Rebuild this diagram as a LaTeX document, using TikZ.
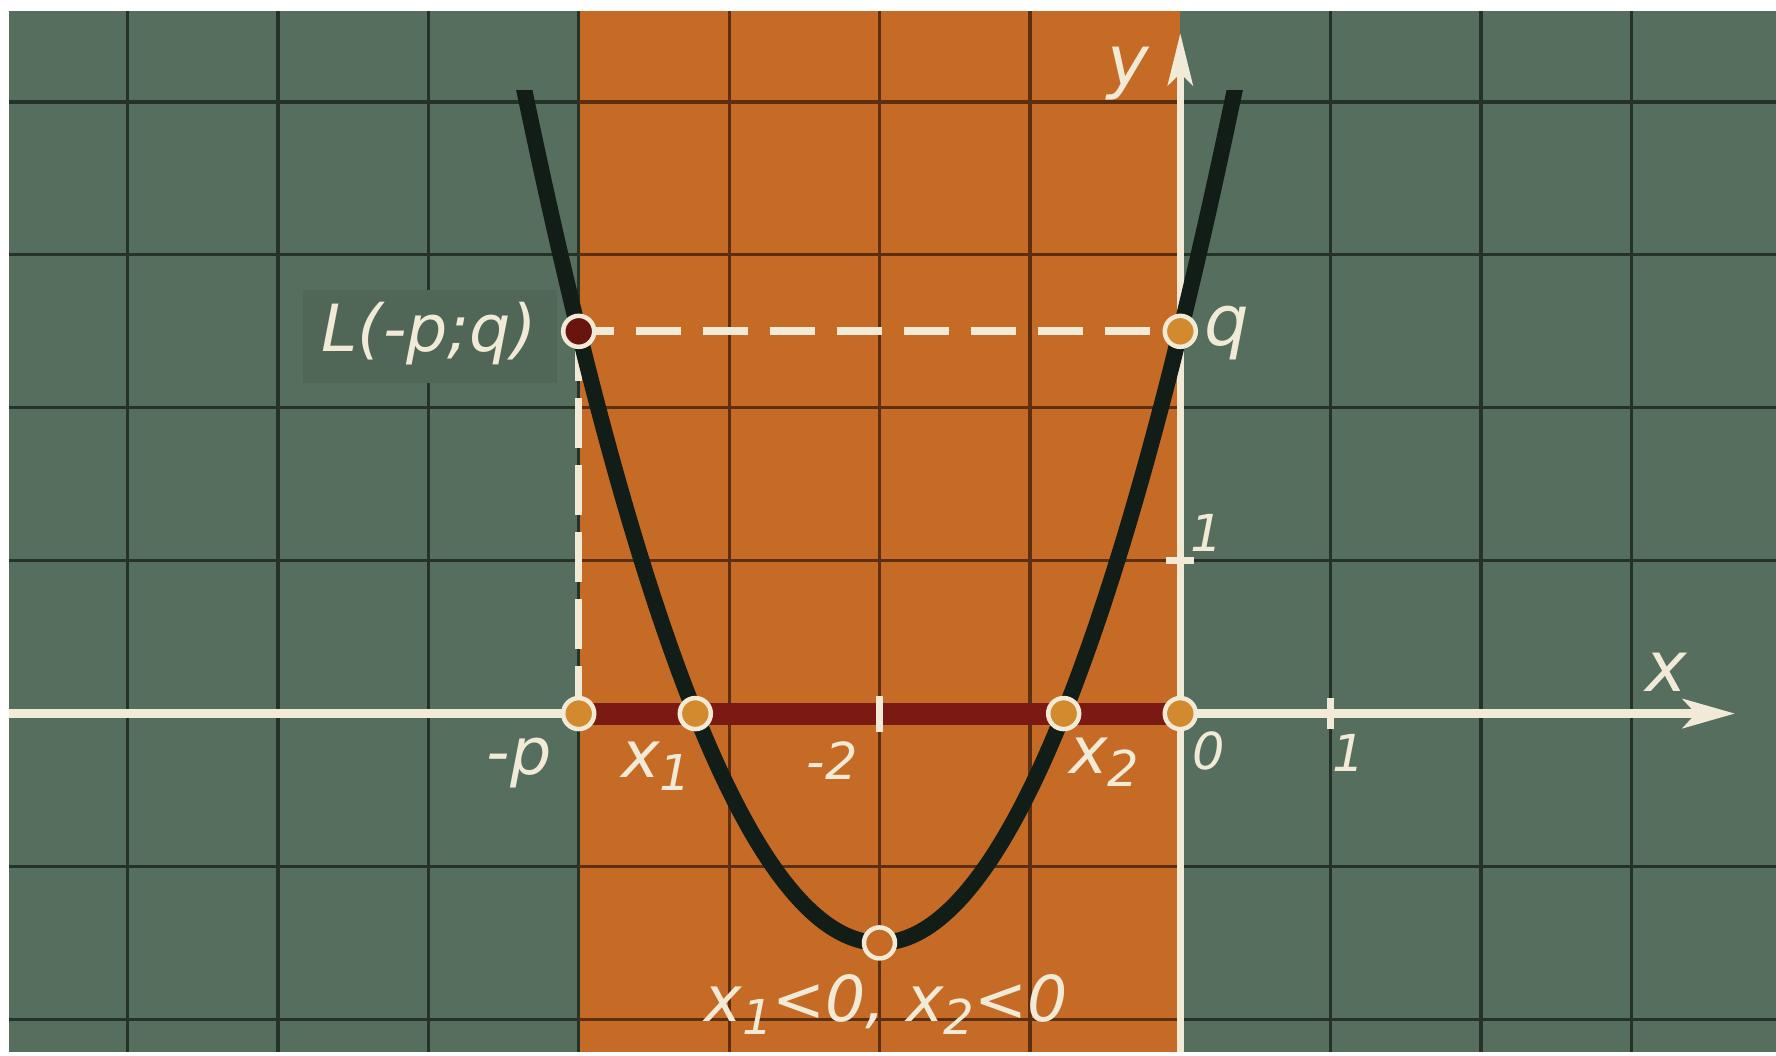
\documentclass[tikz,border=0pt]{standalone}
\usepackage{fontspec}
\usepackage{graphicx}
\setmainfont{DejaVu Sans}
\usetikzlibrary{arrows.meta}
\definecolor{board}{HTML}{566E5E}
\definecolor{boardbox}{HTML}{506758}
\definecolor{orng}{HTML}{C66B25}
\definecolor{gridd}{HTML}{24322A}
\definecolor{gridb}{HTML}{5E2E10}
\definecolor{chalk}{HTML}{F1EAD6}
\definecolor{barred}{HTML}{7A1A12}
\definecolor{ptfill}{HTML}{D3892D}
\definecolor{lfill}{HTML}{6A1410}
\definecolor{curvec}{HTML}{131D18}
\newcommand\sbs[1]{\raisebox{-0.2em}{\scalebox{0.76}{#1}}}
\begin{document}
\begin{tikzpicture}[x=15.04mm,y=15.29mm,
  gline/.style={draw=gridd, line width=0.32mm},
  bline/.style={draw=gridb, line width=0.32mm},
  ptc/.style={circle, draw=chalk, line width=0.45mm, minimum size=3.1mm, inner sep=0pt, fill=ptfill},
  lab/.style={text=chalk, inner sep=0pt, font=\fontsize{18.5pt}{20pt}\selectfont\itshape},
  labs/.style={text=chalk, inner sep=0pt, font=\fontsize{14.5pt}{16pt}\selectfont\itshape},
  laba/.style={text=chalk, inner sep=0pt, font=\fontsize{20pt}{22pt}\selectfont\itshape},
  tickl/.style={draw=chalk, line width=0.65mm},
]
\useasboundingbox (-7.848,-2.239) rectangle (3.961,4.667);
\fill[white] (-7.848,-2.239) rectangle (3.961,4.667);
% board and strip
\fill[board] (-7.788,-2.213) rectangle (3.961,4.595);
\fill[orng] (-4,-2.213) rectangle (0,4.595);
% grid
\foreach \k in {-7,-6,-5,-4,1,2,3} \draw[gline] (\k,-2.213) -- (\k,4.595);
\foreach \k in {-3,-2,-1} \draw[bline] (\k,-2.213) -- (\k,4.595);
\foreach \j in {-2,-1,1,2,3,4} {
  \draw[gline] (-7.788,\j) -- (-4,\j);
  \draw[bline] (-4,\j) -- (0,\j);
  \draw[gline] (0,\j) -- (3.961,\j);
}
% darker box behind the label L
\fill[boardbox] (-5.834,2.165) rectangle (-4.143,2.770);
% named points
\coordinate (cL) at (-4,2.5);
\coordinate (cq) at (0,2.5);
\coordinate (cmp) at (-4,0);
\coordinate (cx1) at (-3.2247,0);
\coordinate (cx2) at (-0.7753,0);
\coordinate (cO) at (0,0);
\coordinate (cV) at (-2,-1.5);
\coordinate (xl) at (-7.788,0);
\coordinate (xr) at (3.688,0);
\coordinate (yb) at (0,-2.213);
\coordinate (yt) at (0,4.45);
% axes
\draw[chalk, line width=0.85mm, -{Stealth[length=5.2mm, width=2.9mm, inset=1.3mm]}] (xl) -- (xr);
\draw[chalk, line width=0.75mm, -{Stealth[length=5.2mm, width=2.5mm, inset=1.2mm]}] (yb) -- (yt);
\draw[barred, line width=2.2mm] (cmp) -- (cO);
% dashed lines
\draw[chalk, line width=0.8mm, dash pattern=on 4.5mm off 2.2mm, dash phase=1mm] (cL) -- (cq);
\draw[chalk, line width=0.75mm, dash pattern=on 5mm off 1.7mm] (cL) -- (cmp);
% ticks
\draw[tickl] (-2,-0.118) -- (-2,0.118);
\draw[tickl] (1,-0.1) -- (1,0.1);
\draw[tickl] (-0.093,1) -- (0.093,1);
% parabola
\begin{scope}
\clip (-5,-3) rectangle (1,4.075);
\draw[curvec, line width=1.6mm] plot[domain=-4.45:0.45, samples=120, smooth] (\x,{(\x+2)*(\x+2)-1.5});
\end{scope}
% points
\node[ptc, fill=lfill] (L) at (cL) {};
\node[ptc] (q) at (cq) {};
\node[ptc] (mp) at (cmp) {};
\node[ptc] (x1) at (cx1) {};
\node[ptc] (x2) at (cx2) {};
\node[ptc] (O) at (cO) {};
\node[ptc, fill=orng] (V) at (cV) {};
% labels
\node[lab, anchor=base east] (tL) at (-4.277,2.365) {L(-p;q)};
\node[laba, anchor=base west] (tq) at (0.158,2.41) {q};
\node[laba, anchor=base] (ty) at (-0.347,4.11) {y};
\node[laba, anchor=base] (tx) at (3.229,0.142) {x};
\node[lab, anchor=base east] (tmp) at (-4.176,-0.396) {-p};
\node[lab, anchor=base] (tx1) at (-3.485,-0.416) {x\sbs{1}};
\node[labs, anchor=base] (tm2) at (-2.315,-0.434) {-2};
\node[lab, anchor=base] (tx2) at (-0.507,-0.39) {x\sbs{2}};
\node[labs, anchor=base] (t0) at (0.192,-0.368) {0};
\node[labs, anchor=base] (t1x) at (1.123,-0.38) {1};
\node[labs, anchor=base] (t1y) at (0.178,1.057) {1};
\node[lab, anchor=base, font=\fontsize{18pt}{20pt}\selectfont\itshape] (tb) at (-1.957,-2.017) {x\sbs{1}<0, x\sbs{2}<0};
\end{tikzpicture}
\end{document}
